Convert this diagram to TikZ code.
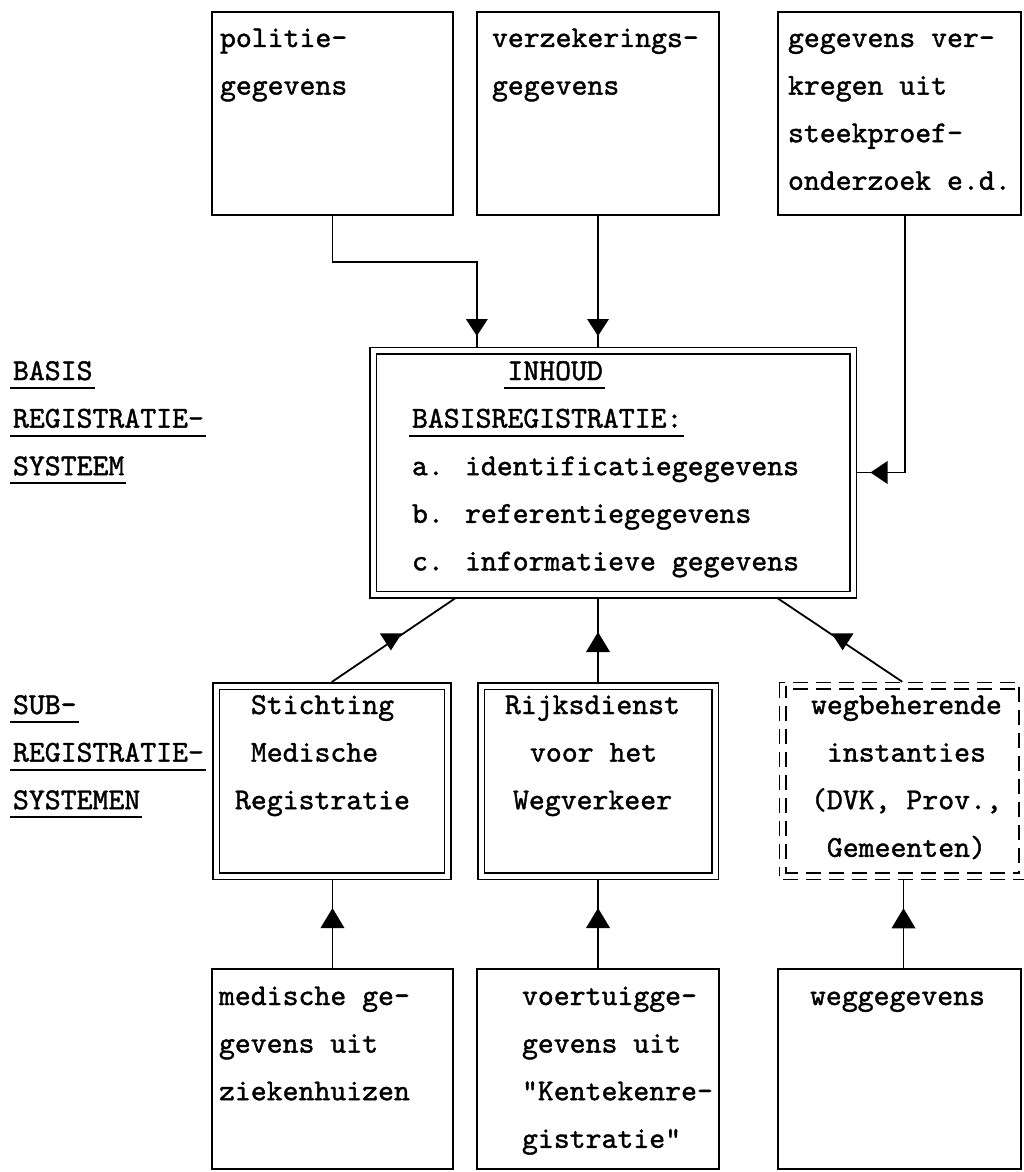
\documentclass[tikz,border=0pt]{standalone}
\usepackage{fontspec}
\newfontfamily\tw[FakeBold=1.3]{lmmono10-regular.otf}
\usetikzlibrary{calc}
\newcommand\uln[1]{\leavevmode\setbox0=\hbox{#1}\hbox to 0pt{\kern-3pt\rule[-9pt]{\dimexpr\wd0+5pt\relax}{1.8pt}\hss}\box0}
\newcommand\tlines[1]{\parbox[t]{500pt}{\raggedright\tw\fontsize{30.3}{47.6}\selectfont #1}}
\newcommand\chr[1]{\hspace*{#1\dimexpr 15.9pt\relax}}
\begin{document}
\begin{tikzpicture}[x=1pt,y=-1pt,
  every node/.style={inner sep=0pt,outer sep=0pt},
  box/.style={draw,line width=1.8pt,rectangle},
  dbox/.style={draw,double,double distance=5pt,line width=1.5pt,outer sep=4pt,rectangle},
  ddash/.style={dbox,dash pattern=on 15pt off 8pt},
  txt/.style={anchor=base west,inner sep=0pt},
  conn/.style={line width=1.8pt},
  tridn/.pic={\fill (-11,-8.5) -- (11,-8.5) -- (0,8.5) -- cycle;},
  triup/.pic={\fill (-12,10) -- (12,10) -- (0,-10) -- cycle;},
  trilf/.pic={\fill (8.5,-11.5) -- (8.5,11.5) -- (-8.5,0) -- cycle;}]
\fill[white] (0,0) rectangle (1023,1172);
\useasboundingbox (0,0) rectangle (1023,1172);

% top source boxes
\node[box,minimum width=241pt,minimum height=203pt] (box1) at (332.5,113.5) {};
\node[box,minimum width=242pt,minimum height=203pt] (box2) at (598,113.5) {};
\node[box,minimum width=243pt,minimum height=203pt] (box3) at (899.5,113.5) {};
\node[txt] (tx1) at (220,47) {\tlines{politie-\\gegevens}};
\node[txt] (tx2) at (492,47) {\tlines{verzekerings-\\gegevens}};
\node[txt] (tx3) at (788,47) {\tlines{gegevens ver-\\kregen uit\\steekproef-\\onderzoek e.d.}};

% central box
\node[dbox,minimum width=480pt,minimum height=244pt] (basis) at (613,472.5) {};
\node[txt] (tx4) at (412,380) {\tlines{\chr{6}\uln{INHOUD}\\\uln{BASISREGISTRATIE:}\\a. identificatiegegevens\\b. referentiegegevens\\c. informatieve gegevens}};

% left labels
\node[txt] (lb1) at (13,380) {\tlines{\uln{BASIS}\\\uln{REGISTRATIE-}\\\uln{SYSTEEM}}};
\node[txt] (lb2) at (13,714) {\tlines{\uln{SUB-}\\\uln{REGISTRATIE-}\\\uln{SYSTEMEN}}};

% sub registration boxes
\node[dbox,minimum width=231.5pt,minimum height=190pt] (subA) at (331.75,781) {};
\node[dbox,minimum width=234pt,minimum height=190pt] (subB) at (598,781) {};
\node[ddash,minimum width=239.5pt,minimum height=190.5pt] (subC) at (902.25,781) {};
\node[txt] (tx5) at (235,714) {\tlines{\chr{1}Stichting\\\chr{1}Medische\\Registratie}};
\node[txt] (tx6) at (505,714) {\tlines{Rijksdienst\\\hspace*{25pt}voor het\\\hspace*{8pt}Wegverkeer}};
\node[txt] (tx7) at (811,714) {\tlines{wegbeherende\\\chr{1}instanties\\(DVK, Prov.,\\\chr{1}Gemeenten)}};

% bottom source boxes
\node[box,minimum width=241pt,minimum height=200pt] (botA) at (332.5,1069) {};
\node[box,minimum width=242pt,minimum height=200pt] (botB) at (598,1069) {};
\node[box,minimum width=243pt,minimum height=200pt] (botC) at (899.5,1069) {};
\node[txt] (tx8) at (219,1005) {\tlines{medische ge-\\gevens uit\\ziekenhuizen}};
\node[txt] (tx9) at (522,1005) {\tlines{voertuigge-\\gevens uit\\"Kentekenre-\\gistratie"}};
\node[txt] (tx10) at (810,1005) {\tlines{weggegevens}};

% helper points on the central box
\coordinate (e1) at ($(basis.north west)!0.221!(basis.north east)$);
\coordinate (e2) at (box2.south |- basis.north);
\coordinate (d1) at ($(basis.south west)!0.176!(basis.south east)$);
\coordinate (d2) at ($(basis.south west)!0.838!(basis.south east)$);
\coordinate (e3) at (subB.north |- basis.south);
\coordinate (f1) at (botA.north |- subA.south);
\coordinate (f2) at (botB.north |- subB.south);
\coordinate (f3) at ([xshift=4pt]botC.north |- subC.south);

% connectors into the central box
\draw[conn] (box1.south) -- ++(0,47) -| (e1);
\pic at ($(e1)+(0,-19)$) {tridn};
\draw[conn] (box2.south) -- (e2);
\pic at ($(e2)+(0,-19)$) {tridn};
\draw[conn] ([xshift=5.5pt]box3.south) |- (basis.east);
\pic at ($(basis.east)+(22,0)$) {trilf};

% connectors between central box and sub systems
\draw[conn] (d1) -- coordinate[pos=0.52] (m1) (subA.north);
\pic at (m1) {tridn};
\draw[conn] (subB.north) -- (e3);
\pic at ($(subB.north)+(0,-40)$) {triup};
\draw[conn] (d2) -- coordinate[pos=0.52] (m2) (subC.north);
\pic at (m2) {tridn};

% connectors from bottom boxes
\draw[conn] (botA.north) -- (f1);
\pic at ($(f1)+(0,38)$) {triup};
\draw[conn] (botB.north) -- (f2);
\pic at ($(f2)+(0,38)$) {triup};
\draw[conn] ([xshift=4pt]botC.north) -- (f3);
\pic at ($(f3)+(0,38)$) {triup};
\end{tikzpicture}
\end{document}
